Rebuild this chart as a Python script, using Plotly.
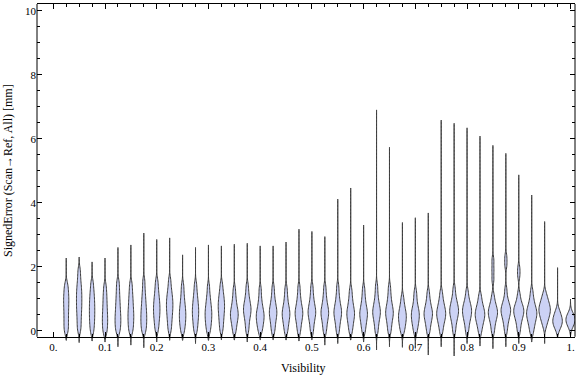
import plotly.graph_objects as go

# ---- data ----
visibility = [0.025, 0.05, 0.075, 0.1, 0.125, 0.15, 0.175, 0.2, 0.225, 0.25,
              0.275, 0.3, 0.325, 0.35, 0.375, 0.4, 0.425, 0.45, 0.475, 0.5,
              0.525, 0.55, 0.575, 0.6, 0.625, 0.65, 0.675, 0.7, 0.725, 0.75,
              0.775, 0.8, 0.825, 0.85, 0.875, 0.9, 0.925, 0.95, 0.975, 1.0]

err_min = [-0.30, -0.37, -0.32, -0.35, -0.50, -0.45, -0.53, -0.35, -0.30, -0.30,
           -0.40, -0.30, -0.28, -0.29, -0.35, -0.28, -0.28, -0.29, -0.32, -0.28,
           -0.45, -0.40, -0.29, -0.35, -0.60, -0.50, -0.52, -0.55, -0.76, -0.50,
           -0.79, -0.40, -0.48, -0.56, -0.50, -0.40, -0.35, -0.40, -0.19, -0.15]

err_max = [2.27, 2.30, 2.15, 2.27, 2.60, 2.68, 3.05, 2.85, 2.90, 2.37,
           2.60, 2.68, 2.65, 2.70, 2.73, 2.65, 2.65, 2.77, 3.17, 3.10,
           2.94, 4.11, 4.46, 3.30, 6.90, 5.73, 3.38, 3.53, 3.68, 6.58,
           6.48, 6.34, 6.08, 5.79, 5.54, 4.87, 4.24, 3.41, 1.97, 0.99]

# bulk of the signed-error observations in each visibility bin
body_samples = [
    [-0.05, 0.08, 0.21, 0.34, 0.47, 0.6, 0.72, 0.84, 0.95, 1.06, 1.18, 1.31, 1.46],
    [0.0, 0.15, 0.3, 0.44, 0.57, 0.69, 0.8, 0.91, 1.02, 1.13, 1.24, 1.36, 1.5, 1.68, 1.9],
    [-0.05, 0.1, 0.23, 0.35, 0.46, 0.57, 0.68, 0.79, 0.9, 1.02, 1.15, 1.3, 1.5],
    [-0.08, 0.05, 0.17, 0.28, 0.39, 0.5, 0.62, 0.75, 0.89, 1.04, 1.2, 1.4],
    [-0.05, 0.07, 0.18, 0.28, 0.38, 0.48, 0.59, 0.71, 0.84, 0.98, 1.14, 1.32, 1.52],
    [-0.05, 0.08, 0.19, 0.3, 0.4, 0.5, 0.6, 0.71, 0.83, 0.96, 1.1, 1.27, 1.47],
    [-0.05, 0.07, 0.18, 0.28, 0.38, 0.48, 0.58, 0.69, 0.81, 0.95, 1.1, 1.3, 1.55],
    [0.0, 0.15, 0.28, 0.39, 0.49, 0.58, 0.67, 0.76, 0.85, 0.95, 1.06, 1.19, 1.35, 1.55],
    [0.0, 0.16, 0.3, 0.42, 0.53, 0.63, 0.72, 0.81, 0.9, 0.99, 1.09, 1.21, 1.36, 1.58],
    [-0.05, 0.09, 0.2, 0.3, 0.39, 0.48, 0.57, 0.66, 0.76, 0.88, 1.02, 1.2, 1.42],
    [-0.02, 0.12, 0.25, 0.36, 0.46, 0.55, 0.64, 0.73, 0.83, 0.94, 1.07, 1.23, 1.45],
    [-0.05, 0.09, 0.2, 0.3, 0.39, 0.48, 0.56, 0.65, 0.74, 0.85, 0.98, 1.14, 1.38],
    [0.0, 0.16, 0.3, 0.42, 0.53, 0.63, 0.72, 0.81, 0.9, 1.0, 1.11, 1.25, 1.45],
    [-0.05, 0.1, 0.22, 0.32, 0.4, 0.47, 0.54, 0.61, 0.69, 0.79, 0.92, 1.08, 1.3],
    [-0.02, 0.15, 0.3, 0.42, 0.51, 0.59, 0.66, 0.73, 0.81, 0.9, 1.02, 1.18, 1.4],
    [-0.05, 0.08, 0.18, 0.27, 0.35, 0.42, 0.49, 0.56, 0.64, 0.74, 0.87, 1.05, 1.3],
    [-0.05, 0.1, 0.23, 0.34, 0.43, 0.51, 0.58, 0.65, 0.73, 0.83, 0.95, 1.12, 1.35],
    [-0.05, 0.1, 0.22, 0.32, 0.41, 0.48, 0.55, 0.62, 0.7, 0.8, 0.93, 1.1, 1.32],
    [-0.05, 0.11, 0.24, 0.34, 0.43, 0.5, 0.57, 0.64, 0.72, 0.82, 0.95, 1.12, 1.36],
    [-0.05, 0.12, 0.26, 0.37, 0.46, 0.53, 0.6, 0.67, 0.75, 0.85, 0.98, 1.15, 1.38],
    [-0.05, 0.11, 0.24, 0.35, 0.44, 0.51, 0.58, 0.65, 0.73, 0.83, 0.96, 1.13, 1.36],
    [-0.05, 0.12, 0.25, 0.36, 0.45, 0.52, 0.59, 0.66, 0.74, 0.84, 0.97, 1.14, 1.38],
    [-0.05, 0.1, 0.22, 0.32, 0.41, 0.48, 0.55, 0.62, 0.7, 0.8, 0.92, 1.08, 1.28],
    [-0.05, 0.1, 0.22, 0.32, 0.41, 0.48, 0.55, 0.62, 0.7, 0.8, 0.93, 1.1, 1.32],
    [-0.05, 0.12, 0.26, 0.37, 0.46, 0.53, 0.6, 0.67, 0.75, 0.85, 0.98, 1.16, 1.4],
    [-0.05, 0.11, 0.24, 0.35, 0.44, 0.51, 0.58, 0.65, 0.73, 0.83, 0.96, 1.13, 1.36],
    [-0.06, 0.07, 0.17, 0.26, 0.34, 0.41, 0.48, 0.55, 0.63, 0.73, 0.86, 1.05],
    [-0.06, 0.08, 0.19, 0.28, 0.36, 0.43, 0.5, 0.57, 0.64, 0.73, 0.85, 1.02, 1.22],
    [-0.06, 0.1, 0.22, 0.32, 0.4, 0.47, 0.53, 0.59, 0.66, 0.74, 0.85, 0.99, 1.2],
    [-0.06, 0.1, 0.22, 0.31, 0.39, 0.45, 0.51, 0.57, 0.63, 0.7, 0.78, 0.88, 1.01, 1.2],
    [-0.04, 0.14, 0.28, 0.38, 0.46, 0.53, 0.59, 0.65, 0.71, 0.78, 0.86, 0.96, 1.1, 1.32],
    [-0.05, 0.12, 0.25, 0.35, 0.43, 0.5, 0.56, 0.62, 0.68, 0.74, 0.81, 0.9, 1.02, 1.22],
    [-0.06, 0.09, 0.2, 0.29, 0.36, 0.42, 0.48, 0.53, 0.59, 0.65, 0.72, 0.81, 0.93, 1.1],
    [-0.05, 0.12, 0.25, 0.35, 0.43, 0.49, 0.55, 0.6, 0.66, 0.73, 0.81, 0.92, 1.1, 1.6, 1.9, 2.2],
    [-0.03, 0.15, 0.28, 0.38, 0.46, 0.53, 0.59, 0.64, 0.69, 0.75, 0.82, 0.91, 1.04, 1.28, 2.05, 2.3],
    [-0.04, 0.13, 0.26, 0.36, 0.44, 0.5, 0.56, 0.61, 0.66, 0.71, 0.77, 0.85, 0.96, 1.15, 1.72, 1.95],
    [-0.08, 0.06, 0.17, 0.26, 0.33, 0.4, 0.46, 0.51, 0.56, 0.61, 0.67, 0.73, 0.81, 0.91, 1.04, 1.24],
    [0.12, 0.25, 0.34, 0.41, 0.47, 0.53, 0.58, 0.63, 0.67, 0.72, 0.77, 0.82, 0.89, 0.96, 1.05, 1.18],
    [0.03, 0.13, 0.19, 0.25, 0.29, 0.34, 0.40, 0.46, 0.54, 0.65],
    [0.11, 0.2, 0.27, 0.32, 0.36, 0.41, 0.47, 0.56],
]

x_tick_vals = [0.0, 0.1, 0.2, 0.3, 0.4, 0.5, 0.6, 0.7, 0.8, 0.9, 1.0]
x_tick_text = ["0.", "0.1", "0.2", "0.3", "0.4", "0.5", "0.6", "0.7", "0.8", "0.9", "1."]
y_tick_vals = [0, 2, 4, 6, 8, 10]

x_title = "Visibility"
y_title = "SignedError (Scan\u2192Ref, All) [mm]"

# ---- layout geometry ----
X_RANGE = [-0.0315, 1.0087]
Y_RANGE = [-0.853, 10.21]
AXIS_Y = -0.19
axis_pos = (AXIS_Y - Y_RANGE[0]) / (Y_RANGE[1] - Y_RANGE[0])

FILL = "rgb(204,210,245)"
EDGE = "rgb(60,60,60)"
FONT = "Liberation Serif"

fig = go.Figure()
for pos, samples, lo, hi in zip(visibility, body_samples, err_min, err_max):
    fig.add_trace(go.Violin(
        x=[pos] * len(samples), y=samples,
        spanmode="manual", span=[lo, hi],
        bandwidth=0.13,
        scalemode="count", scalegroup="edge" if pos > 0.96 else "main",
        fillcolor=FILL, line=dict(color=EDGE, width=1),
        points=False, box_visible=False, meanline_visible=False,
        showlegend=False, hoverinfo="skip",
    ))

# invisible trace that realizes the mirrored top axis
fig.add_trace(go.Scatter(x=[0.5], y=[5], xaxis="x2", mode="markers",
                         marker=dict(opacity=0), showlegend=False, hoverinfo="skip"))

minor_x = [round(i * 0.025, 3) for i in range(0, 41) if i % 4 != 0]
minor_y = [i * 0.5 for i in range(0, 21) if i % 4 != 0]

common_x = dict(range=X_RANGE, tickvals=x_tick_vals, ticks="inside", ticklen=5,
                tickcolor="black", tickwidth=1, showgrid=False, zeroline=False,
                automargin=False,
                minor=dict(tickvals=minor_x, ticks="inside", ticklen=3,
                           tickcolor="black", tickwidth=1, showgrid=False))

fig.update_layout(
    width=576, height=377,
    margin=dict(l=37, r=1, t=4, b=19, autoexpand=False),
    paper_bgcolor="white", plot_bgcolor="white",
    violinmode="overlay", violingap=0.118, violingroupgap=0,
    font=dict(family=FONT, size=11, color="black"),
    xaxis=dict(**common_x, ticktext=x_tick_text, anchor="free", position=axis_pos,
               showline=True, linecolor="black", linewidth=1,
               tickfont=dict(family=FONT, size=11, color="black")),
    xaxis2=dict(**common_x, overlaying="x", side="top", anchor="y",
                showticklabels=False, showline=True, linecolor="black", linewidth=1),
    yaxis=dict(range=Y_RANGE, tickvals=y_tick_vals, ticks="inside", ticklen=5,
               tickcolor="black", tickwidth=1, showgrid=False, zeroline=False,
               showline=False, mirror="ticks", automargin=False,
               minor=dict(tickvals=minor_y, ticks="inside", ticklen=3,
                          tickcolor="black", tickwidth=1, showgrid=False),
               tickfont=dict(family=FONT, size=11, color="black")),
    shapes=[
        dict(type="line", xref="paper", yref="y", x0=0, x1=0, y0=AXIS_Y, y1=Y_RANGE[1],
             line=dict(color="black", width=1), layer="above"),
        dict(type="line", xref="paper", yref="y", x0=1, x1=1, y0=AXIS_Y, y1=Y_RANGE[1],
             line=dict(color="black", width=1), layer="above"),
    ],
    annotations=[
        dict(text=x_title, xref="paper", yref="paper", x=0.495, y=-0.028,
             xanchor="center", yanchor="middle", showarrow=False,
             font=dict(family=FONT, size=12, color="black")),
        dict(text=y_title, xref="paper", yref="paper", x=-0.054, y=0.531,
             xanchor="center", yanchor="middle", showarrow=False, textangle=-90,
             font=dict(family=FONT, size=12, color="black")),
    ],
)

fig.write_html("out.html",
               config={"displayModeBar": False},
               post_script="document.body.style.margin='0px';"
                           "document.body.style.overflow='hidden';")
